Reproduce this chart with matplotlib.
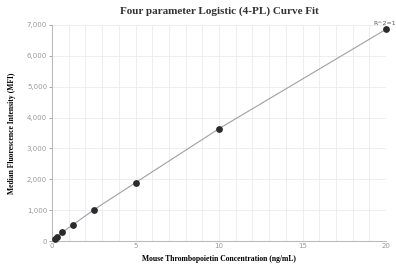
import numpy as np
import matplotlib.pyplot as plt

conc = [0.156, 0.3125, 0.625, 1.25, 2.5, 5, 10, 20]
mfi = [65, 130, 285, 525, 1010, 1890, 3640, 6860]
xticks = [0, 5, 10, 15, 20]
yticks = [0, 1000, 2000, 3000, 4000, 5000, 6000, 7000]

fig = plt.figure(figsize=(3.96, 2.71), dpi=100)
ax = fig.add_axes([52/396, 1-241/271, 334/396, 216/271])

ax.plot(conc, mfi, color="#a0a0a0", lw=0.8, zorder=2)
ax.scatter(conc, mfi, s=24, color="#2b2b2b", zorder=3, linewidths=0,
           clip_on=False)
ax.text(conc[-1] - 0.05, mfi[-1] + 110, "R^2=1", fontsize=4.5, color="#555555",
        ha="center", va="bottom")

ax.set_xlim(0, 20)
ax.set_ylim(0, 7000)
ax.set_xticks(xticks)
ax.set_yticks(yticks)
ax.set_xticks(np.arange(0, 21, 1), minor=True)
ax.set_yticklabels([f"{v:,}" for v in yticks])
ax.grid(True, which="both", color="#e8ebf2", lw=0.6, zorder=0)
ax.tick_params(axis="both", which="major", labelsize=5, colors="#999999",
               length=2, width=0.6, pad=1.5)
ax.tick_params(axis="both", which="minor", length=0)
ax.tick_params(axis="x", length=0)
for s in ["top", "right"]:
    ax.spines[s].set_visible(False)
for s in ["left", "bottom"]:
    ax.spines[s].set_color("#bbbbbb")
    ax.spines[s].set_linewidth(0.8)

ax.set_title("Four parameter Logistic (4-PL) Curve Fit", fontsize=8,
             fontweight="bold", family="Liberation Serif", color="#333333", pad=8)
ax.set_xlabel("Mouse Thrombopoietin Concentration (ng/mL)", fontsize=5.5,
              fontweight="bold", family="Liberation Serif", labelpad=4)
ax.set_ylabel("Median Fluorescence Intensity (MFI)", fontsize=5.5,
              fontweight="bold", family="Liberation Serif", labelpad=8)

fig.savefig("out.png", dpi=100)
